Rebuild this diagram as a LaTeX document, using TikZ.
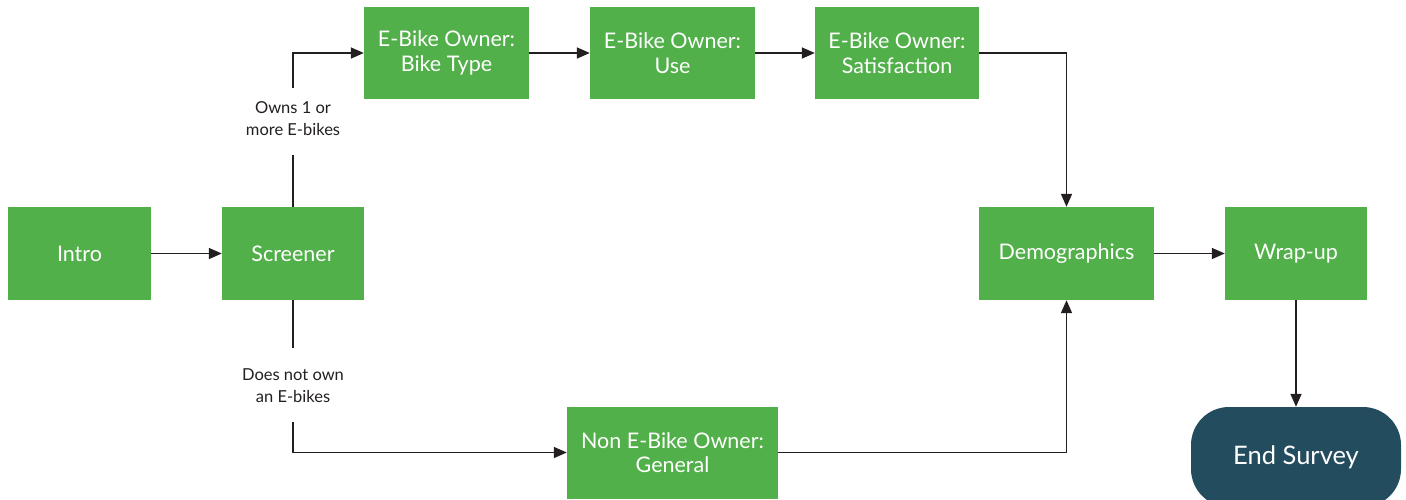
\documentclass[tikz,border=0pt]{standalone}
\usepackage{fontspec}
\setmainfont{Lato}
\usetikzlibrary{arrows.meta}
\definecolor{boxgreen}{HTML}{52B04A}
\definecolor{endteal}{HTML}{234C5E}
\definecolor{linedark}{HTML}{231F20}
\tikzset{
  gbox/.style={fill=boxgreen, text=white, inner sep=0pt, font=\fontsize{21.5}{24.5}\selectfont, align=center},
  endbox/.style={fill=endteal, text=white, inner sep=0pt, rounded corners=38pt, font=\fontsize{25.5}{28}\selectfont},
  conn/.style={draw=linedark, line width=1.6pt, -{Triangle[length=13pt,width=11pt]}},
  plain/.style={draw=linedark, line width=1.6pt},
  lbl/.style={font=\fontsize{16.5}{22}\selectfont, text=linedark, align=center}
}
\begin{document}
\begin{tikzpicture}[x=1pt,y=-1pt]
\useasboundingbox (0,0) rectangle (1406,499);
\node[gbox, minimum width=143pt, minimum height=93pt] (intro) at (79.5,253.5) {Intro};
\node[gbox, minimum width=142pt, minimum height=93pt] (screen) at (293,253.5) {Screener};
\node[gbox, minimum width=165pt, minimum height=92pt] (type) at (446.5,53) {E-Bike Owner:\\Bike Type};
\node[gbox, minimum width=165pt, minimum height=92pt] (use) at (672.5,53) {E-Bike Owner:\\Use};
\node[gbox, minimum width=164pt, minimum height=92pt] (sat) at (897,53) {E-Bike Owner:\\Satisfaction};
\node[gbox, minimum width=175pt, minimum height=93pt] (demo) at (1066.5,253.5) {Demographics};
\node[gbox, minimum width=142pt, minimum height=93pt] (wrap) at (1296,253.5) {Wrap-up};
\node[gbox, minimum width=211pt, minimum height=92pt] (non) at (672.5,452.5) {Non E-Bike Owner:\\General};
\node[endbox, minimum width=210pt, minimum height=100pt] (end) at (1296,457) {End Survey};
\node[lbl] (own) at (293,119) {Owns 1 or\\more E-bikes};
\node[lbl] (notown) at (293,386) {Does not own\\an E-bikes};
\coordinate (c1) at (293,155);
\coordinate (c2) at (293,88);
\coordinate (c3) at (293,348);
\coordinate (c4) at (293,422);
\draw[conn] (intro) -- (screen);
\draw[plain] (screen.north) -- (c1);
\draw[conn] (c2) |- (type.west);
\draw[conn] (type) -- (use);
\draw[conn] (use) -- (sat);
\draw[conn] (sat.east) -| (demo.north);
\draw[plain] (screen.south) -- (c3);
\draw[conn] (c4) |- (non.west);
\draw[conn] (non.east) -| (demo.south);
\draw[conn] (demo) -- (wrap);
\draw[conn] (wrap.south) -- (end.north);
\end{tikzpicture}
\end{document}
